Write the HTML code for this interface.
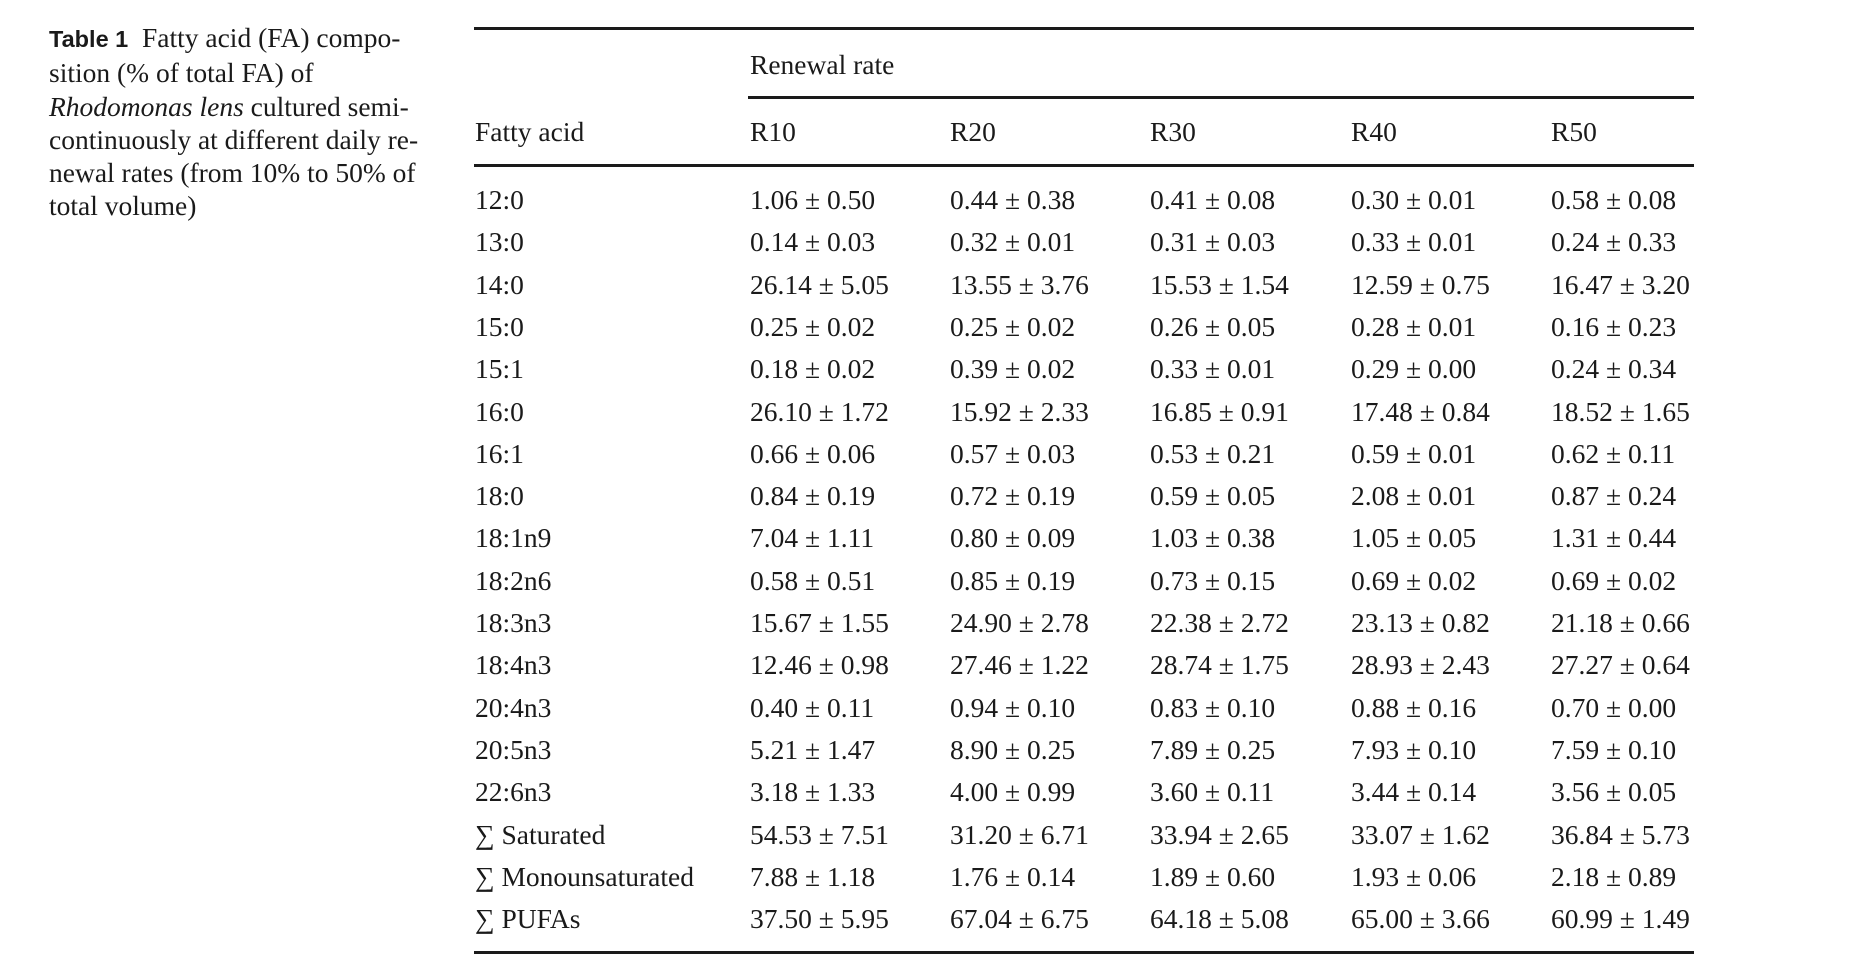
<!DOCTYPE html>
<html><head><meta charset="utf-8"><style>
html,body{margin:0;padding:0;background:#fff;}
body{width:1861px;height:972px;position:relative;overflow:hidden;font-family:"Liberation Serif",serif;color:#1a1a1a;font-size:27.5px;}
.cap{position:absolute;left:49px;top:21px;white-space:nowrap;line-height:33.3px;font-size:27.5px;}
.cap b{font-family:"Liberation Sans",sans-serif;font-weight:bold;font-size:23.5px;}
.ln{position:absolute;height:3px;background:#1a1a1a;}
.t{position:absolute;white-space:nowrap;line-height:1;}
</style></head><body>
<div class="cap"><b>Table 1</b>&nbsp; Fatty acid (FA) compo-<br>sition (% of total FA) of<br><i>Rhodomonas lens</i> cultured semi-<br>continuously at different daily re-<br>newal rates (from 10% to 50% of<br>total volume)</div>
<div class="ln" style="left:474px;width:1220px;top:27px"></div>
<div class="ln" style="left:748px;width:946px;top:96px"></div>
<div class="ln" style="left:474px;width:1220px;top:164px"></div>
<div class="ln" style="left:474px;width:1220px;top:951px"></div>
<div id="c"></div>
<script>
const rows=[
["12:0","1.06 ± 0.50","0.44 ± 0.38","0.41 ± 0.08","0.30 ± 0.01","0.58 ± 0.08"],
["13:0","0.14 ± 0.03","0.32 ± 0.01","0.31 ± 0.03","0.33 ± 0.01","0.24 ± 0.33"],
["14:0","26.14 ± 5.05","13.55 ± 3.76","15.53 ± 1.54","12.59 ± 0.75","16.47 ± 3.20"],
["15:0","0.25 ± 0.02","0.25 ± 0.02","0.26 ± 0.05","0.28 ± 0.01","0.16 ± 0.23"],
["15:1","0.18 ± 0.02","0.39 ± 0.02","0.33 ± 0.01","0.29 ± 0.00","0.24 ± 0.34"],
["16:0","26.10 ± 1.72","15.92 ± 2.33","16.85 ± 0.91","17.48 ± 0.84","18.52 ± 1.65"],
["16:1","0.66 ± 0.06","0.57 ± 0.03","0.53 ± 0.21","0.59 ± 0.01","0.62 ± 0.11"],
["18:0","0.84 ± 0.19","0.72 ± 0.19","0.59 ± 0.05","2.08 ± 0.01","0.87 ± 0.24"],
["18:1n9","7.04 ± 1.11","0.80 ± 0.09","1.03 ± 0.38","1.05 ± 0.05","1.31 ± 0.44"],
["18:2n6","0.58 ± 0.51","0.85 ± 0.19","0.73 ± 0.15","0.69 ± 0.02","0.69 ± 0.02"],
["18:3n3","15.67 ± 1.55","24.90 ± 2.78","22.38 ± 2.72","23.13 ± 0.82","21.18 ± 0.66"],
["18:4n3","12.46 ± 0.98","27.46 ± 1.22","28.74 ± 1.75","28.93 ± 2.43","27.27 ± 0.64"],
["20:4n3","0.40 ± 0.11","0.94 ± 0.10","0.83 ± 0.10","0.88 ± 0.16","0.70 ± 0.00"],
["20:5n3","5.21 ± 1.47","8.90 ± 0.25","7.89 ± 0.25","7.93 ± 0.10","7.59 ± 0.10"],
["22:6n3","3.18 ± 1.33","4.00 ± 0.99","3.60 ± 0.11","3.44 ± 0.14","3.56 ± 0.05"],
["∑ Saturated","54.53 ± 7.51","31.20 ± 6.71","33.94 ± 2.65","33.07 ± 1.62","36.84 ± 5.73"],
["∑ Monounsaturated","7.88 ± 1.18","1.76 ± 0.14","1.89 ± 0.60","1.93 ± 0.06","2.18 ± 0.89"],
["∑ PUFAs","37.50 ± 5.95","67.04 ± 6.75","64.18 ± 5.08","65.00 ± 3.66","60.99 ± 1.49"]];
const xs=[475,750,950,1150,1351,1551];
let h="";
function t(x,base,s){h+=`<div class="t" style="left:${x}px;top:${base-21}px">${s}</div>`;}
t(750,72,"Renewal rate");
t(475,139,"Fatty acid");
["R10","R20","R30","R40","R50"].forEach((s,i)=>t(xs[i+1],139,s));
rows.forEach((r,j)=>{const b=207+j*42.3;r.forEach((s,i)=>t(xs[i],b,s));});
document.getElementById("c").innerHTML=h;
</script>
</body></html>
